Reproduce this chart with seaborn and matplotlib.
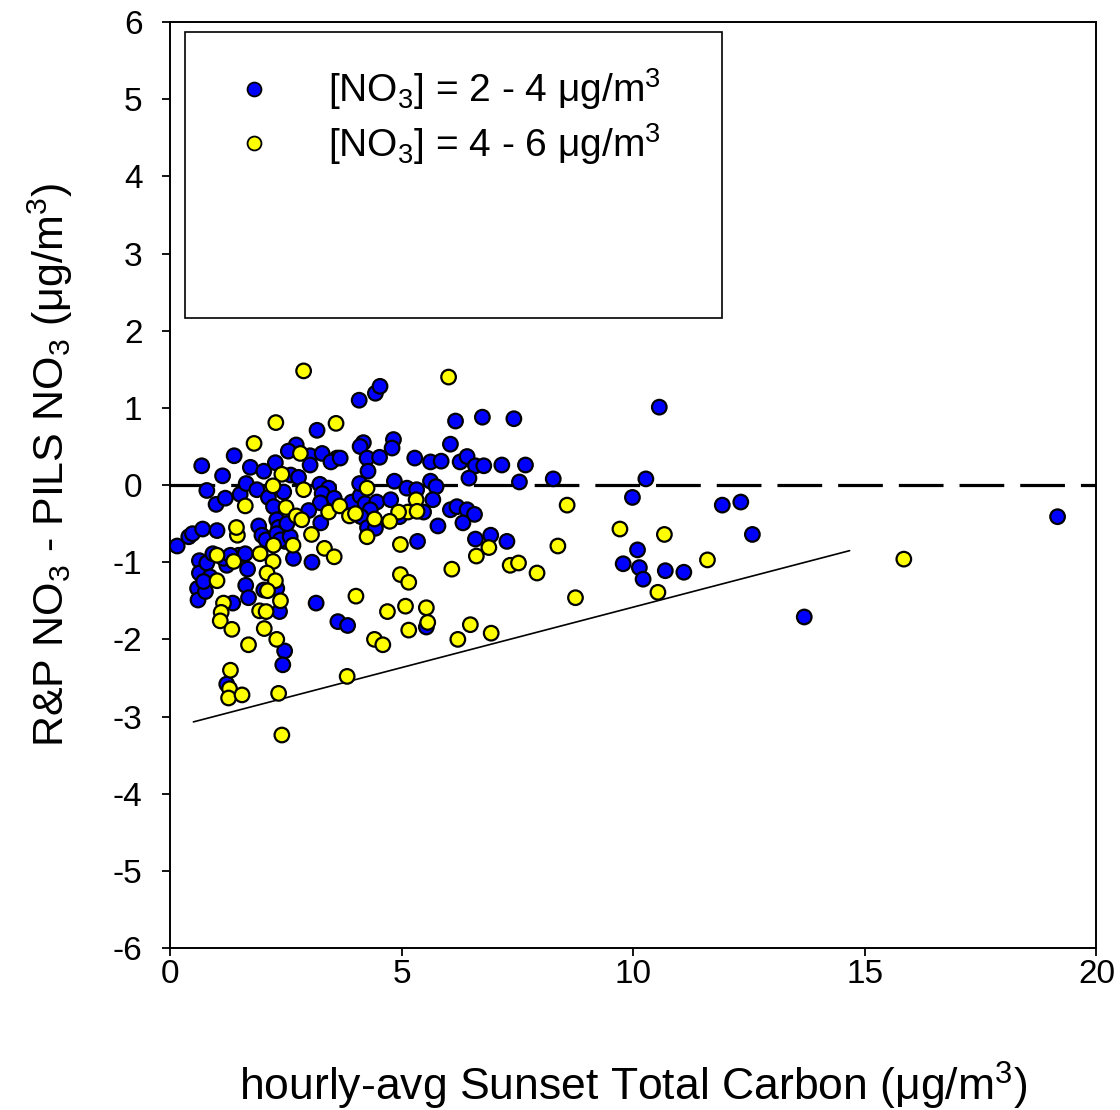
import matplotlib
matplotlib.use("Agg")
import matplotlib.pyplot as plt
import seaborn as sns
import pandas as pd
import numpy as np
from matplotlib.lines import Line2D
from matplotlib.patches import Rectangle

# ---- data ----
blue_x = [0.15, 0.40, 0.48, 0.70, 1.01, 0.63, 0.63, 0.59, 0.60, 0.76, 0.79, 0.86, 0.72, 0.92, 1.22, 1.15,
          1.48, 1.62, 1.67, 1.63, 1.69, 1.35, 1.22, 1.30,
          0.79, 0.68, 1.13, 1.38, 0.99, 1.19, 1.51, 1.73, 2.02, 2.27, 1.64, 1.87, 2.12, 2.23, 2.30, 1.91,
          1.98, 2.07, 2.34, 2.30, 2.48, 2.38, 2.59, 2.52,
          2.02, 2.30, 2.36, 2.47, 2.43, 2.66, 3.06, 3.15, 3.62, 3.83,
          2.72, 2.55, 3.02, 3.28, 3.60, 3.47, 3.02, 3.17, 2.60, 2.77, 2.45, 3.23, 3.42, 3.28, 3.54, 3.24,
          2.99, 3.25, 3.92, 4.10, 4.21, 4.46, 4.32, 4.12, 4.26, 4.45, 4.76,
          4.08, 4.43, 4.53, 4.17, 4.10, 4.82, 4.79, 4.25, 4.52, 4.27, 3.67, 4.09, 4.84, 5.11, 5.32, 5.62,
          5.74, 5.28, 5.62, 5.85, 6.16, 6.74, 7.42, 6.05, 6.26, 6.41, 6.59, 6.77, 7.16, 7.67, 6.45, 7.54, 8.27,
          5.67, 6.05, 6.19, 6.41, 6.57, 5.47, 5.78, 6.32, 4.95, 4.43, 5.34, 6.59, 6.92, 7.27, 5.53,
          10.56, 10.27, 9.98, 11.92, 12.32, 12.57, 19.16, 10.09, 9.78, 10.13, 10.21, 10.69, 11.09, 13.69]
blue_y = [-0.79, -0.67, -0.63, -0.57, -0.59, -0.98, -1.14, -1.34, -1.49, -1.38, -1.01, -1.19, -1.25, -0.89, -1.04, -0.95,
          -0.91, -0.89, -1.09, -1.30, -1.46, -1.53, -2.58, -0.91,
          -0.07, 0.25, 0.12, 0.38, -0.25, -0.17, -0.12, 0.23, 0.18, 0.29, 0.02, -0.06, -0.16, -0.28, -0.45, -0.53,
          -0.65, -0.71, -0.55, -0.63, -0.73, -0.71, -0.67, -0.50,
          -1.36, -1.34, -1.64, -2.15, -2.33, -0.95, -1.00, -1.53, -1.77, -1.82,
          0.52, 0.44, 0.38, 0.41, 0.35, 0.30, 0.26, 0.71, 0.13, 0.10, -0.09, 0.01, -0.04, -0.11, -0.17, -0.23,
          -0.33, -0.49, -0.22, -0.14, -0.24, -0.22, -0.32, -0.41, -0.55, -0.49, -0.19,
          1.10, 1.19, 1.28, 0.55, 0.50, 0.59, 0.48, 0.35, 0.36, 0.18, 0.35, 0.02, 0.05, -0.04, -0.06, 0.05,
          -0.02, 0.35, 0.30, 0.31, 0.83, 0.88, 0.86, 0.53, 0.30, 0.37, 0.25, 0.25, 0.26, 0.26, 0.09, 0.04, 0.08,
          -0.19, -0.32, -0.28, -0.32, -0.38, -0.35, -0.53, -0.49, -0.41, -0.56, -0.73, -0.70, -0.65, -0.73, -1.84,
          1.01, 0.08, -0.16, -0.26, -0.22, -0.64, -0.41, -0.84, -1.02, -1.07, -1.22, -1.11, -1.13, -1.71]

yellow_x = [1.45, 1.43, 1.01, 1.37, 1.01, 1.15, 1.10, 1.08, 1.33, 1.69, 1.30, 1.28, 1.26, 1.55, 2.34, 2.41,
            1.94, 2.22, 2.09, 2.27, 2.10, 2.38, 1.93, 2.07, 2.03, 2.30, 3.33, 3.54, 4.01, 3.82, 2.23, 2.65, 3.05,
            2.88, 2.28, 3.58, 1.81, 2.81, 2.41, 2.22, 2.88, 1.62, 2.50, 2.72, 2.84, 3.42, 3.66, 3.87,
            6.01, 4.25, 5.31, 5.13, 5.33, 4.93, 4.74, 4.41, 4.00, 4.25, 4.97, 6.88, 6.61, 6.08, 7.34, 7.52, 7.92,
            4.97, 5.15, 4.69, 5.08, 5.53, 5.56, 5.15, 4.41, 4.59, 6.48, 6.93, 6.21,
            8.57, 9.71, 10.67, 8.37, 8.75, 11.60, 10.53, 15.84]
yellow_y = [-0.65, -0.55, -0.91, -0.99, -1.24, -1.53, -1.65, -1.76, -1.87, -2.07, -2.40, -2.64, -2.76, -2.72, -2.70, -3.24,
            -0.89, -0.99, -1.14, -1.24, -1.37, -1.50, -1.63, -1.64, -1.86, -2.00, -0.82, -0.93, -1.44, -2.48, -0.78, -0.78, -0.64,
            1.48, 0.81, 0.80, 0.54, 0.41, 0.14, -0.01, -0.06, -0.27, -0.29, -0.40, -0.45, -0.35, -0.27, -0.40,
            1.40, -0.04, -0.19, -0.35, -0.34, -0.35, -0.47, -0.44, -0.37, -0.67, -0.77, -0.81, -0.92, -1.09, -1.04, -1.01, -1.14,
            -1.16, -1.26, -1.64, -1.57, -1.59, -1.78, -1.88, -2.00, -2.07, -1.81, -1.92, -2.00,
            -0.26, -0.57, -0.64, -0.79, -1.46, -0.97, -1.39, -0.96]

series_labels = ["[NO$_3$] = 2 - 4 \u03bcg/m$^3$", "[NO$_3$] = 4 - 6 \u03bcg/m$^3$"]
zero_line_x = [0, 20]
zero_line_y = [0, 0]
bound_line_x = [0.5, 14.67]
bound_line_y = [-3.07, -0.85]
x_ticks = [0, 5, 10, 15, 20]
y_ticks = [-6, -5, -4, -3, -2, -1, 0, 1, 2, 3, 4, 5, 6]

df = pd.DataFrame({
    "x": blue_x + yellow_x,
    "y": blue_y + yellow_y,
    "group": [series_labels[0]] * len(blue_x) + [series_labels[1]] * len(yellow_x),
})

sns.set_theme(style="white")
plt.rcParams["font.family"] = ["Liberation Sans", "DejaVu Sans"]
plt.rcParams["mathtext.fontset"] = "custom"
plt.rcParams["mathtext.rm"] = "Liberation Sans"
plt.rcParams["mathtext.it"] = "Liberation Sans:italic"
plt.rcParams["mathtext.bf"] = "Liberation Sans:bold"
plt.rcParams["axes.unicode_minus"] = False
for k in ["text.color", "axes.labelcolor", "xtick.color", "ytick.color", "axes.edgecolor"]:
    plt.rcParams[k] = "black"

fig = plt.figure(figsize=(11.2, 11.1), dpi=100)
ax = fig.add_axes([0.152, 0.146, 0.827, 0.834])

palette = {series_labels[0]: "#0000FF", series_labels[1]: "#FFFF00"}

sns.lineplot(x=zero_line_x, y=zero_line_y, ax=ax, color="black", lw=2.3,
             dashes=False, zorder=1, legend=False).lines[-1].set_dashes((14, 5))
sns.lineplot(x=bound_line_x, y=bound_line_y, ax=ax, color="black", lw=1.2, zorder=1, legend=False)

sns.scatterplot(data=df, x="x", y="y", hue="group", palette=palette, s=110,
                edgecolor="black", linewidth=1.6, ax=ax, legend=False, zorder=3)

ax.set_xlim(0, 20)
ax.set_ylim(-6, 6)
ax.set_xticks(x_ticks)
ax.set_yticks(y_ticks)
ax.tick_params(axis="both", which="major", direction="out", length=6, width=1.3,
               labelsize=24, left=True, bottom=True, top=False, right=False)
ax.tick_params(axis="x", pad=2)
ax.tick_params(axis="y", pad=14)
for sp in ax.spines.values():
    sp.set_color("black")
    sp.set_linewidth(1.4)

ax.set_xlabel("hourly-avg Sunset Total Carbon (\u03bcg/m$^3$)", fontsize=32, labelpad=50)
ax.set_ylabel("R&P NO$_3$ - PILS NO$_3$ (\u03bcg/m$^3$)", fontsize=31)
ax.yaxis.set_label_coords(-0.103, 0.522)

# legend box
ax.add_patch(Rectangle((0.016, 0.680), 0.580, 0.309, transform=ax.transAxes,
                       facecolor="white", edgecolor="black", lw=1.2, zorder=4))
handles = [Line2D([], [], ls="none", marker="o", markersize=10, markerfacecolor="#0000FF",
                  markeredgecolor="black", markeredgewidth=1.3),
           Line2D([], [], ls="none", marker="o", markersize=10, markerfacecolor="#FFFF00",
                  markeredgecolor="black", markeredgewidth=1.3)]
leg = ax.legend(handles, series_labels, loc="upper left", bbox_to_anchor=(0.053, 0.969),
                frameon=False, fontsize=28, handlelength=1.0, handletextpad=1.4,
                labelspacing=0.22, borderaxespad=0)
leg.set_zorder(5)

fig.savefig("out.png", dpi=100, facecolor="white")
